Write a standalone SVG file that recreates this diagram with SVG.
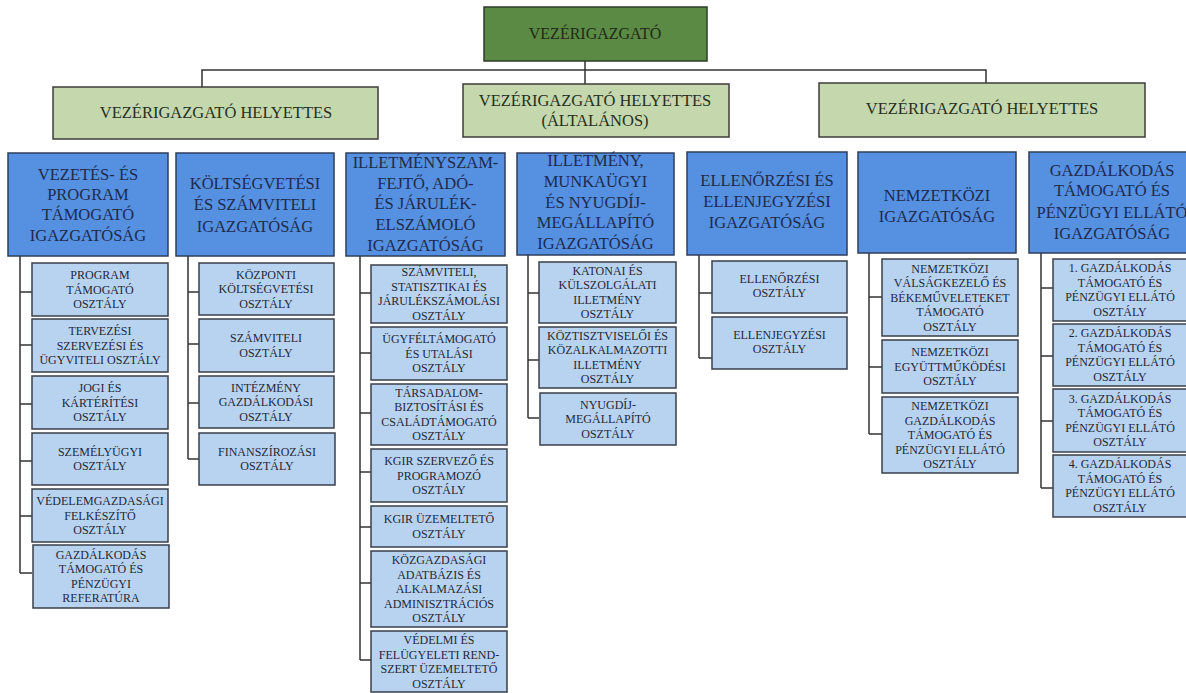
<svg xmlns="http://www.w3.org/2000/svg" width="1186" height="693" viewBox="0 0 1186 693">
<style>
text{font-family:"Liberation Serif","Times New Roman",serif;text-anchor:middle}
.top rect{fill:#5b8a45;stroke:#2f3a2a;stroke-width:1.5}
.top text{font-size:16px;fill:#1e2a16}
.dep rect{fill:#c5d7ad;stroke:#3d3d3d;stroke-width:1.5}
.dep text{font-size:16.5px;fill:#26301f}
.dir rect{fill:#5690e0;stroke:#2e3e5c;stroke-width:1.5}
.dir text{font-size:16.5px;fill:#1d2b4e}
.sub rect{fill:#b8d3f0;stroke:#3a3f48;stroke-width:1.5}
.sub text{font-size:12px;fill:#1f2838}
#connectors path{fill:none;stroke:#333;stroke-width:1.5}
</style>
<rect width="1186" height="693" fill="#fff"/>
<g id="connectors">
<path d="M202 87V70H986V83M585 61V84"/>
<path d="M20 256V573M20 292H32M20 345H32M20 404H32M20 461H32M20 516H32M20 573H32"/>
<path d="M188 256V459M188 292H199M188 344H199M188 403H199M188 459H199"/>
<path d="M360 256V660M360 293H371M360 353H371M360 413H371M360 472H371M360 527H371M360 583H371M360 660H371"/>
<path d="M528 255V418M528 293H539M528 360H539M528 418H539"/>
<path d="M699 255V358M699 293H712M699 358H712"/>
<path d="M869 253V434M869 297H882M869 367H882M869 434H882"/>
<path d="M1041 253V488M1041 288H1053M1041 356H1053M1041 421H1053M1041 488H1053"/>
</g>
<g id="ceo" class="top"><rect x="484" y="7" width="223" height="54"/><text x="595" y="38.5">VEZÉRIGAZGATÓ</text></g>
<g id="dep1" class="dep"><rect x="53" y="87" width="325" height="52"/><text x="216" y="117.5">VEZÉRIGAZGATÓ HELYETTES</text></g>
<g id="dep2" class="dep"><rect x="463" y="84" width="266" height="53"/><text x="595" y="105.5">VEZÉRIGAZGATÓ HELYETTES</text><text x="595" y="125.5">(ÁLTALÁNOS)</text></g>
<g id="dep3" class="dep"><rect x="819" y="83" width="326" height="54"/><text x="982" y="113.5">VEZÉRIGAZGATÓ HELYETTES</text></g>

<g id="dir1" class="dir"><rect x="8" y="153" width="160" height="103"/><text x="88" y="179.5">VEZETÉS- ÉS</text><text x="88" y="199.5">PROGRAM</text><text x="88" y="219.5">TÁMOGATÓ</text><text x="88" y="240.5">IGAZGATÓSÁG</text></g>
<g id="dir2" class="dir"><rect x="176" y="153" width="158" height="103"/><text x="255" y="188.5">KÖLTSÉGVETÉSI</text><text x="255" y="209.5">ÉS SZÁMVITELI</text><text x="255" y="231.5">IGAZGATÓSÁG</text></g>
<g id="dir3" class="dir"><rect x="346" y="153" width="159" height="103"/><text x="425.5" y="167.5">ILLETMÉNYSZAM-</text><text x="425.5" y="188.5">FEJTŐ, ADÓ-</text><text x="425.5" y="208.5">ÉS JÁRULÉK-</text><text x="425.5" y="229.5">ELSZÁMOLÓ</text><text x="425.5" y="250.5">IGAZGATÓSÁG</text></g>
<g id="dir4" class="dir"><rect x="517" y="153" width="157" height="102"/><text x="595.5" y="165.5">ILLETMÉNY,</text><text x="595.5" y="186.5">MUNKAÜGYI</text><text x="595.5" y="207.5">ÉS NYUGDÍJ-</text><text x="595.5" y="227.5">MEGÁLLAPÍTÓ</text><text x="595.5" y="248.5">IGAZGATÓSÁG</text></g>
<g id="dir5" class="dir"><rect x="687" y="152" width="160" height="103"/><text x="767" y="185.5">ELLENŐRZÉSI ÉS</text><text x="767" y="206.5">ELLENJEGYZÉSI</text><text x="767" y="227.5">IGAZGATÓSÁG</text></g>
<g id="dir6" class="dir"><rect x="858" y="152" width="158" height="101"/><text x="937" y="200.5">NEMZETKÖZI</text><text x="937" y="221.5">IGAZGATÓSÁG</text></g>
<g id="dir7" class="dir"><rect x="1029" y="152" width="167" height="101"/><text x="1112" y="175.5">GAZDÁLKODÁS</text><text x="1112" y="195.5">TÁMOGATÓ ÉS</text><text x="1112" y="217.5">PÉNZÜGYI ELLÁTÓ</text><text x="1112" y="238.5">IGAZGATÓSÁG</text></g>

<g id="s1a" class="sub"><rect x="32" y="263" width="136" height="53"/><text x="100" y="279">PROGRAM</text><text x="100" y="293.5">TÁMOGATÓ</text><text x="100" y="308">OSZTÁLY</text></g>
<g id="s1b" class="sub"><rect x="32" y="319" width="136" height="53"/><text x="100" y="335">TERVEZÉSI</text><text x="100" y="349.5">SZERVEZÉSI ÉS</text><text x="100" y="364">ÜGYVITELI OSZTÁLY</text></g>
<g id="s1c" class="sub"><rect x="32" y="376" width="136" height="53"/><text x="100" y="392">JOGI ÉS</text><text x="100" y="406.5">KÁRTÉRÍTÉSI</text><text x="100" y="421">OSZTÁLY</text></g>
<g id="s1d" class="sub"><rect x="32" y="433" width="136" height="52"/><text x="100" y="455.75">SZEMÉLYÜGYI</text><text x="100" y="470.25">OSZTÁLY</text></g>
<g id="s1e" class="sub"><rect x="32" y="489" width="136" height="53"/><text x="100" y="505">VÉDELEMGAZDASÁGI</text><text x="100" y="519.5">FELKÉSZÍTŐ</text><text x="100" y="534">OSZTÁLY</text></g>
<g id="s1f" class="sub"><rect x="33" y="545" width="136" height="63"/><text x="101" y="558.75">GAZDÁLKODÁS</text><text x="101" y="573.25">TÁMOGATÓ ÉS</text><text x="101" y="587.75">PÉNZÜGYI</text><text x="101" y="602.25">REFERATÚRA</text></g>

<g id="s2a" class="sub"><rect x="199" y="263" width="135" height="52"/><text x="266" y="278.5">KÖZPONTI</text><text x="266" y="293">KÖLTSÉGVETÉSI</text><text x="266" y="307.5">OSZTÁLY</text></g>
<g id="s2b" class="sub"><rect x="199" y="319" width="135" height="53"/><text x="266" y="342.25">SZÁMVITELI</text><text x="266" y="356.75">OSZTÁLY</text></g>
<g id="s2c" class="sub"><rect x="199" y="376" width="135" height="52"/><text x="266" y="391.5">INTÉZMÉNY</text><text x="266" y="406">GAZDÁLKODÁSI</text><text x="266" y="420.5">OSZTÁLY</text></g>
<g id="s2d" class="sub"><rect x="199" y="433" width="136" height="52"/><text x="267" y="455.75">FINANSZÍROZÁSI</text><text x="267" y="470.25">OSZTÁLY</text></g>

<g id="s3a" class="sub"><rect x="371" y="265" width="136" height="58"/><text x="439" y="276.25">SZÁMVITELI,</text><text x="439" y="290.75">STATISZTIKAI ÉS</text><text x="439" y="305.25">JÁRULÉKSZÁMOLÁSI</text><text x="439" y="319.75">OSZTÁLY</text></g>
<g id="s3b" class="sub"><rect x="371" y="327" width="136" height="53"/><text x="439" y="343">ÜGYFÉLTÁMOGATÓ</text><text x="439" y="357.5">ÉS UTALÁSI</text><text x="439" y="372">OSZTÁLY</text></g>
<g id="s3c" class="sub"><rect x="371" y="384" width="136" height="61"/><text x="439" y="396.75">TÁRSADALOM-</text><text x="439" y="411.25">BIZTOSÍTÁSI ÉS</text><text x="439" y="425.75">CSALÁDTÁMOGATÓ</text><text x="439" y="440.25">OSZTÁLY</text></g>
<g id="s3d" class="sub"><rect x="371" y="449" width="136" height="53"/><text x="439" y="465">KGIR SZERVEZŐ ÉS</text><text x="439" y="479.5">PROGRAMOZÓ</text><text x="439" y="494">OSZTÁLY</text></g>
<g id="s3e" class="sub"><rect x="371" y="506" width="136" height="41"/><text x="439" y="523.25">KGIR ÜZEMELTETŐ</text><text x="439" y="537.75">OSZTÁLY</text></g>
<g id="s3f" class="sub"><rect x="371" y="551" width="136" height="76"/><text x="439" y="564">KÖZGAZDASÁGI</text><text x="439" y="578.5">ADATBÁZIS ÉS</text><text x="439" y="593">ALKALMAZÁSI</text><text x="439" y="607.5">ADMINISZTRÁCIÓS</text><text x="439" y="622">OSZTÁLY</text></g>
<g id="s3g" class="sub"><rect x="371" y="631" width="136" height="61"/><text x="439" y="644.25">VÉDELMI ÉS</text><text x="439" y="658.75">FELÜGYELETI REND-</text><text x="439" y="673.25">SZERT ÜZEMELTETŐ</text><text x="439" y="687.75">OSZTÁLY</text></g>

<g id="s4a" class="sub"><rect x="539" y="262" width="137" height="61"/><text x="607.5" y="274.75">KATONAI ÉS</text><text x="607.5" y="289.25">KÜLSZOLGÁLATI</text><text x="607.5" y="303.75">ILLETMÉNY</text><text x="607.5" y="318.25">OSZTÁLY</text></g>
<g id="s4b" class="sub"><rect x="539" y="327" width="137" height="61"/><text x="607.5" y="339.75">KÖZTISZTVISELŐI ÉS</text><text x="607.5" y="354.25">KÖZALKALMAZOTTI</text><text x="607.5" y="368.75">ILLETMÉNY</text><text x="607.5" y="383.25">OSZTÁLY</text></g>
<g id="s4c" class="sub"><rect x="540" y="393" width="136" height="52"/><text x="608" y="408.5">NYUGDÍJ-</text><text x="608" y="423">MEGÁLLAPÍTÓ</text><text x="608" y="437.5">OSZTÁLY</text></g>

<g id="s5a" class="sub"><rect x="712" y="261" width="135" height="52"/><text x="779.5" y="282.75">ELLENŐRZÉSI</text><text x="779.5" y="297.25">OSZTÁLY</text></g>
<g id="s5b" class="sub"><rect x="712" y="317" width="135" height="52"/><text x="779.5" y="338.75">ELLENJEGYZÉSI</text><text x="779.5" y="353.25">OSZTÁLY</text></g>

<g id="s6a" class="sub"><rect x="882" y="259" width="136" height="77"/><text x="950" y="272.5">NEMZETKÖZI</text><text x="950" y="287">VÁLSÁGKEZELŐ ÉS</text><text x="950" y="301.5">BÉKEMŰVELETEKET</text><text x="950" y="316">TÁMOGATÓ</text><text x="950" y="330.5">OSZTÁLY</text></g>
<g id="s6b" class="sub"><rect x="882" y="340" width="136" height="53"/><text x="950" y="356">NEMZETKÖZI</text><text x="950" y="370.5">EGYÜTTMŰKÖDÉSI</text><text x="950" y="385">OSZTÁLY</text></g>
<g id="s6c" class="sub"><rect x="882" y="397" width="136" height="76"/><text x="950" y="410">NEMZETKÖZI</text><text x="950" y="424.5">GAZDÁLKODÁS</text><text x="950" y="439">TÁMOGATÓ ÉS</text><text x="950" y="453.5">PÉNZÜGYI ELLÁTÓ</text><text x="950" y="468">OSZTÁLY</text></g>

<g id="s7a" class="sub"><rect x="1053" y="259" width="140" height="62"/><text x="1120" y="272.25">1. GAZDÁLKODÁS</text><text x="1120" y="286.75">TÁMOGATÓ ÉS</text><text x="1120" y="301.25">PÉNZÜGYI ELLÁTÓ</text><text x="1120" y="315.75">OSZTÁLY</text></g>
<g id="s7b" class="sub"><rect x="1053" y="324" width="140" height="62"/><text x="1120" y="337.25">2. GAZDÁLKODÁS</text><text x="1120" y="351.75">TÁMOGATÓ ÉS</text><text x="1120" y="366.25">PÉNZÜGYI ELLÁTÓ</text><text x="1120" y="380.75">OSZTÁLY</text></g>
<g id="s7c" class="sub"><rect x="1053" y="389" width="140" height="63"/><text x="1120" y="402.75">3. GAZDÁLKODÁS</text><text x="1120" y="417.25">TÁMOGATÓ ÉS</text><text x="1120" y="431.75">PÉNZÜGYI ELLÁTÓ</text><text x="1120" y="446.25">OSZTÁLY</text></g>
<g id="s7d" class="sub"><rect x="1053" y="455" width="140" height="62"/><text x="1120" y="468.25">4. GAZDÁLKODÁS</text><text x="1120" y="482.75">TÁMOGATÓ ÉS</text><text x="1120" y="497.25">PÉNZÜGYI ELLÁTÓ</text><text x="1120" y="511.75">OSZTÁLY</text></g>
</svg>
